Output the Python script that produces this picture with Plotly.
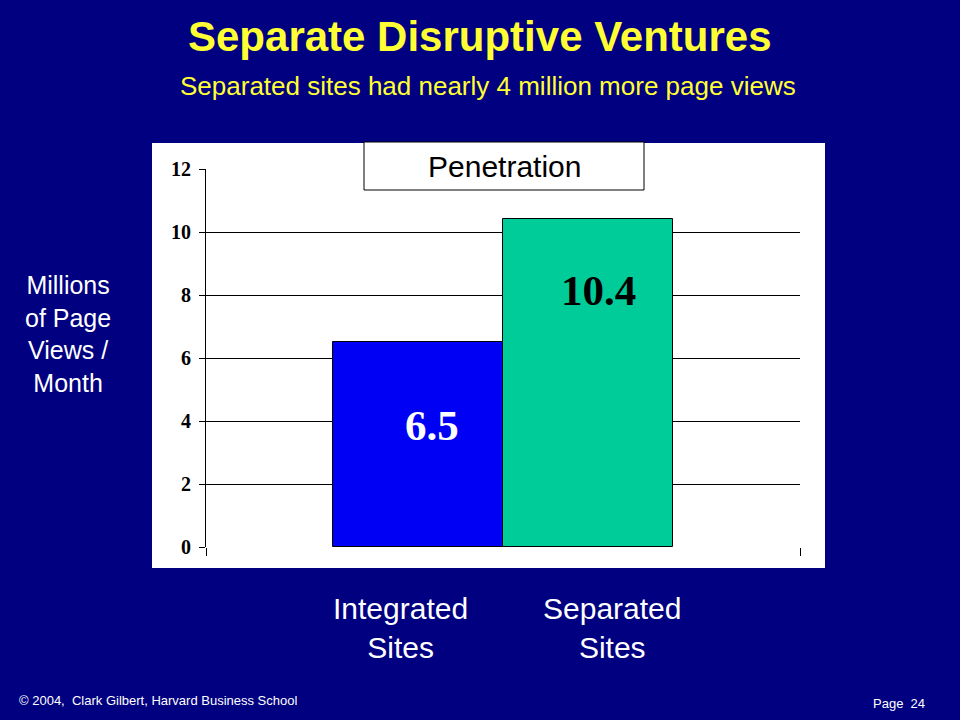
import plotly.graph_objects as go

categories = ["Integrated Sites", "Separated Sites"]
values = [6.5, 10.4]
bar_colors = ["#0000F5", "#00CC99"]
label_colors = ["white", "black"]
y_ticks = [0, 2, 4, 6, 8, 10, 12]

W, H = 960, 720
L, R, T, B = 206, 800, 169, 547  # plot area in pixels

def px(x):
    return (x - L) / (R - L)

def py(y):
    return (B - y) / (B - T)

def note(x, y, text, size, color, family="Liberation Sans", xanchor="center", **kw):
    fig.add_annotation(x=px(x), y=py(y), xref="paper", yref="paper", text=text,
                       showarrow=False, xanchor=xanchor, yanchor="middle",
                       font=dict(family=family, size=size, color=color), **kw)

fig = go.Figure()
for i, (cat, v) in enumerate(zip(categories, values)):
    fig.add_trace(go.Bar(
        x=[i], y=[v], width=1.0, name=cat,
        marker=dict(color=bar_colors[i], line=dict(color="black", width=1)),
        hoverinfo="y", showlegend=False,
    ))

# value labels
label_pos = [(0.08, 3.85), (1.06, 8.15)]
for i, v in enumerate(values):
    fig.add_annotation(x=label_pos[i][0], y=label_pos[i][1], xref="x", yref="y",
                       text=f"<b>{v}</b>", showarrow=False,
                       xanchor="center", yanchor="middle",
                       font=dict(family="Liberation Serif", size=43, color=label_colors[i]))

# white panel
fig.add_shape(type="rect", xref="paper", yref="paper",
              x0=px(152), x1=px(825), y0=py(568), y1=py(143),
              fillcolor="white", line=dict(width=0), layer="below")

# Penetration box
fig.add_shape(type="rect", xref="paper", yref="paper",
              x0=px(364), x1=px(644), y0=py(190), y1=py(142),
              fillcolor="white", line=dict(color="black", width=1), layer="above")
note(504, 166, "Penetration", 30, "black")

# category labels below panel
cat_x = [400, 612]
for i, cat in enumerate(categories):
    note(cat_x[i], 628, cat.replace(" ", "<br>"), 30, "white", align="center")

# y-axis title
note(68, 334, "Millions<br>of Page<br>Views /<br>Month", 25, "white", align="center")

# titles
note(480, 37, "<b>Separate Disruptive Ventures</b>", 42, "#FFFF33")
note(488, 86, "Separated sites had nearly 4 million more page views", 26, "#FFFF33")

# footer
note(17, 700, "© 2004,  Clark Gilbert, Harvard Business School", 13, "white", xanchor="left")
note(927, 703, "Page  24", 13, "white", xanchor="right")

fig.update_layout(
    width=W, height=H,
    margin=dict(l=L, r=W - R, t=T, b=H - B, pad=0),
    paper_bgcolor="#000080", plot_bgcolor="white",
    bargap=0,
    xaxis=dict(range=[-1.25, 2.25], showgrid=False, zeroline=False,
               tickvals=[-1.25, 2.25], ticktext=["", ""], ticks="outside",
               ticklen=8, tickcolor="black", showline=False, fixedrange=True),
    yaxis=dict(range=[0, 12], tickvals=y_ticks, showgrid=True, gridcolor="black",
               gridwidth=1, zeroline=False, showline=True, linecolor="black",
               linewidth=1, ticks="outside", ticklen=6, tickcolor="black",
               tickfont=dict(family="Liberation Serif", size=20, color="black",
                             weight="bold"),
               ticklabelstandoff=4),
)

fig.write_html("out.html", config={"displayModeBar": False},
               post_script="document.body.style.margin='0';document.body.style.background='#000080';")
